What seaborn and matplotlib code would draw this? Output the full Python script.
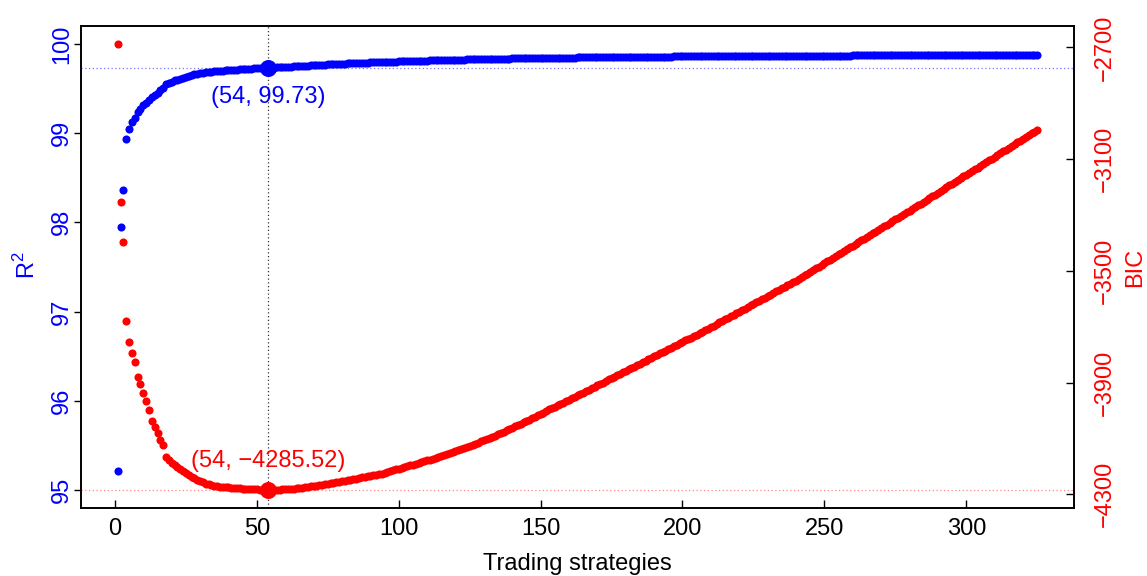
import numpy as np
import pandas as pd
import matplotlib
matplotlib.use("Agg")
import matplotlib.pyplot as plt
import seaborn as sns

# ---------------- data ----------------
r2 = [
    95.22, 97.95, 98.36, 98.93, 99.05, 99.12, 99.17, 99.24, 99.27, 99.31,
    99.34, 99.37, 99.40, 99.43, 99.45, 99.48, 99.51, 99.55, 99.56, 99.57,
    99.59, 99.60, 99.61, 99.62, 99.63, 99.64, 99.65, 99.66, 99.665, 99.67,
    99.675, 99.68, 99.684, 99.688, 99.691, 99.694, 99.697, 99.700, 99.703, 99.706,
    99.708, 99.710, 99.712, 99.714, 99.716, 99.718, 99.720, 99.722, 99.724, 99.725,
    99.726, 99.727, 99.728, 99.730, 99.732, 99.734, 99.736, 99.738, 99.740, 99.742,
    99.744, 99.746, 99.748, 99.750, 99.752, 99.754, 99.756, 99.757, 99.759, 99.761,
    99.763, 99.764, 99.766, 99.768, 99.769, 99.771, 99.773, 99.774, 99.776, 99.777,
    99.779, 99.780, 99.782, 99.783, 99.785, 99.786, 99.788, 99.789, 99.791, 99.792,
    99.794, 99.795, 99.796, 99.797, 99.798, 99.799, 99.800, 99.801, 99.802, 99.803,
    99.804, 99.805, 99.806, 99.807, 99.808, 99.809, 99.810, 99.811, 99.812, 99.813,
    99.814, 99.815, 99.816, 99.817, 99.818, 99.818, 99.819, 99.820, 99.821, 99.822,
    99.822, 99.823, 99.824, 99.825, 99.825, 99.826, 99.827, 99.828, 99.828, 99.829,
    99.830, 99.830, 99.831, 99.832, 99.832, 99.833, 99.834, 99.834, 99.835, 99.836,
    99.836, 99.837, 99.837, 99.838, 99.839, 99.839, 99.840, 99.840, 99.841, 99.841,
    99.842, 99.842, 99.843, 99.843, 99.844, 99.844, 99.845, 99.845, 99.846, 99.846,
    99.847, 99.847, 99.848, 99.848, 99.849, 99.849, 99.849, 99.850, 99.850, 99.850,
    99.851, 99.851, 99.851, 99.852, 99.852, 99.852, 99.853, 99.853, 99.853, 99.854,
    99.854, 99.854, 99.855, 99.855, 99.855, 99.856, 99.856, 99.856, 99.857, 99.857,
    99.857, 99.857, 99.858, 99.858, 99.858, 99.858, 99.859, 99.859, 99.859, 99.859,
    99.860, 99.860, 99.860, 99.860, 99.861, 99.861, 99.861, 99.861, 99.862, 99.862,
    99.862, 99.862, 99.862, 99.863, 99.863, 99.863, 99.863, 99.863, 99.864, 99.864,
    99.864, 99.864, 99.864, 99.864, 99.865, 99.865, 99.865, 99.865, 99.865, 99.865,
    99.866, 99.866, 99.866, 99.866, 99.866, 99.866, 99.866, 99.867, 99.867, 99.867,
    99.867, 99.867, 99.867, 99.867, 99.868, 99.868, 99.868, 99.868, 99.868, 99.868,
    99.868, 99.869, 99.869, 99.869, 99.869, 99.869, 99.869, 99.869, 99.869, 99.870,
    99.870, 99.870, 99.870, 99.870, 99.870, 99.870, 99.870, 99.871, 99.871, 99.871,
    99.871, 99.871, 99.871, 99.871, 99.871, 99.871, 99.872, 99.872, 99.872, 99.872,
    99.872, 99.872, 99.872, 99.872, 99.872, 99.873, 99.873, 99.873, 99.873, 99.873,
    99.873, 99.873, 99.873, 99.873, 99.873, 99.874, 99.874, 99.874, 99.874, 99.874,
    99.874, 99.874, 99.874, 99.874, 99.874, 99.874, 99.875, 99.875, 99.875, 99.875,
    99.875, 99.875, 99.875, 99.875, 99.875, 99.875, 99.875, 99.875, 99.876, 99.876,
    99.876, 99.876, 99.876, 99.876, 99.876,
]

bic = [
    -2687, -3254, -3397, -3680, -3754, -3795, -3828, -3880, -3906, -3938,
    -3966, -4000, -4037, -4058, -4081, -4105, -4125, -4166, -4177, -4187,
    -4196, -4204, -4211, -4218, -4225, -4231, -4237, -4243, -4249, -4254,
    -4258, -4262, -4265, -4268, -4270, -4272, -4273, -4274, -4275, -4276,
    -4277, -4278, -4278, -4279, -4280, -4280, -4281, -4282, -4282, -4283,
    -4284, -4284, -4285, -4285.52, -4285, -4285, -4284, -4284, -4283, -4283,
    -4282, -4281, -4280, -4279, -4278, -4277, -4275, -4274, -4272, -4271,
    -4269, -4267, -4266, -4264, -4262, -4261, -4259, -4257, -4256, -4254,
    -4252, -4250, -4248, -4246, -4244, -4242, -4240, -4238, -4236, -4234,
    -4232, -4230, -4228, -4226, -4223, -4220, -4217, -4214, -4211, -4208,
    -4205, -4202, -4199, -4197, -4194, -4191, -4188, -4185, -4182, -4179,
    -4176, -4173, -4170, -4167, -4163, -4160, -4156, -4153, -4149, -4146,
    -4142, -4139, -4135, -4132, -4128, -4124, -4120, -4116, -4111, -4107,
    -4103, -4099, -4094, -4090, -4085, -4080, -4076, -4071, -4066, -4062,
    -4057, -4052, -4047, -4042, -4037, -4033, -4028, -4023, -4018, -4013,
    -4008, -4003, -3996, -3991, -3986, -3981, -3977, -3972, -3967, -3962,
    -3957, -3951, -3946, -3941, -3936, -3931, -3926, -3920, -3915, -3910,
    -3905, -3900, -3895, -3889, -3884, -3879, -3874, -3869, -3864, -3858,
    -3853, -3848, -3843, -3838, -3832, -3827, -3822, -3817, -3812, -3806,
    -3801, -3796, -3791, -3786, -3780, -3775, -3770, -3765, -3760, -3754,
    -3749, -3744, -3739, -3734, -3729, -3724, -3718, -3713, -3707, -3702,
    -3696, -3691, -3685, -3679, -3674, -3668, -3663, -3657, -3652, -3646,
    -3641, -3635, -3629, -3624, -3618, -3613, -3607, -3602, -3596, -3590,
    -3585, -3579, -3574, -3568, -3563, -3557, -3551, -3546, -3540, -3535,
    -3529, -3523, -3516, -3510, -3504, -3498, -3491, -3485, -3479, -3473,
    -3466, -3460, -3454, -3448, -3441, -3435, -3429, -3423, -3416, -3410,
    -3404, -3398, -3391, -3385, -3379, -3372, -3366, -3360, -3354, -3347,
    -3341, -3335, -3329, -3322, -3316, -3310, -3304, -3297, -3291, -3284,
    -3278, -3272, -3265, -3259, -3252, -3246, -3239, -3233, -3227, -3220,
    -3214, -3207, -3201, -3194, -3188, -3182, -3175, -3169, -3162, -3156,
    -3149, -3143, -3137, -3130, -3124, -3117, -3111, -3104, -3098, -3092,
    -3085, -3079, -3072, -3066, -3059, -3053, -3047, -3040, -3034, -3027,
    -3021, -3014, -3008, -3002, -2996,
]

strategies = list(range(1, len(r2) + 1))
best_k = 54
x_ticks = [0, 50, 100, 150, 200, 250, 300]
r2_ticks = [95, 96, 97, 98, 99, 100]
bic_ticks = [-4300, -3900, -3500, -3100, -2700]
x_label = "Trading strategies"
BLUE = "#0000FF"
RED = "#FF0000"

# ---------------- style ----------------
sns.set_style("white")
plt.rcParams['font.family'] = ['Liberation Sans', 'DejaVu Sans']
plt.rcParams['mathtext.fontset'] = 'custom'
plt.rcParams['mathtext.rm'] = 'Liberation Sans'
plt.rcParams['axes.unicode_minus'] = True

df = pd.DataFrame({"k": strategies, "r2": r2, "bic": bic})
best_r2 = r2[best_k - 1]
best_bic = bic[best_k - 1]

fig = plt.figure(figsize=(11.47, 5.76), dpi=100)
ax = fig.add_axes([81 / 1147, 1 - 508 / 576, (1074 - 81) / 1147, (508 - 26) / 576])
ax2 = ax.twinx()

# reference lines
ax.axvline(best_k, color="#333333", ls=(0, (1, 2)), lw=0.9, zorder=1)
ax.axhline(best_r2, color="#7777FF", ls=(0, (1, 2)), lw=0.9, zorder=1)
ax2.axhline(best_bic, color="#FF8888", ls=(0, (1, 2)), lw=0.9, zorder=1)

# points
sns.scatterplot(data=df, x="k", y="r2", ax=ax, color=BLUE, s=34, linewidth=0,
                zorder=3, legend=False)
sns.scatterplot(data=df, x="k", y="bic", ax=ax2, color=RED, s=34, linewidth=0,
                zorder=3, legend=False)
ax.scatter([best_k], [best_r2], s=150, color=BLUE, linewidth=0, zorder=4)
ax2.scatter([best_k], [best_bic], s=150, color=RED, linewidth=0, zorder=4)

ax.annotate(f"({best_k}, {best_r2:.2f})", xy=(best_k, best_r2), xytext=(0, -21),
            textcoords="offset points", ha="center", va="center",
            color=BLUE, fontsize=17)
ax2.annotate(f"({best_k}, {best_bic:.2f})".replace("-", "\u2212"),
             xy=(best_k, best_bic), xytext=(0, 21),
             textcoords="offset points", ha="center", va="center",
             color=RED, fontsize=17)

# limits (R-style 4% padding)
n = len(strategies)
ax.set_xlim(1 - 0.04 * (n - 1), n + 0.04 * (n - 1))
ax.set_ylim(95 - 0.04 * 5, 100 + 0.04 * 5)
bmin, bmax = min(bic), max(bic)
br = bmax - bmin
ax2.set_ylim(bmin - 0.04 * br, bmax + 0.04 * br)

ax.set_xticks(x_ticks)
ax.set_yticks(r2_ticks)
ax2.set_yticks(bic_ticks)
ax.set_xticklabels([str(t) for t in x_ticks])
ax.set_yticklabels([str(t) for t in r2_ticks])
ax2.set_yticklabels([f"{t}".replace("-", "\u2212") for t in bic_ticks])

ax.tick_params(axis="x", direction="in", length=6, width=1, labelsize=17,
               pad=7, colors="black", bottom=True)
ax.tick_params(axis="y", direction="out", length=5, width=1, labelsize=17,
               pad=0.5, labelcolor=BLUE, color="black", left=True,
               labelrotation=90)
ax2.tick_params(axis="y", direction="in", length=6, width=1, labelsize=17,
                pad=14, labelcolor=RED, color="black", right=True,
                labelrotation=90)
for lbl in ax.get_yticklabels():
    lbl.set_va("center")
for lbl in ax2.get_yticklabels():
    lbl.set_va("center")

for a in (ax, ax2):
    for sp in a.spines.values():
        sp.set_color("black")
        sp.set_linewidth(1.2)
        sp.set_visible(True)

ax.set_xlabel(x_label, fontsize=17, color="black")
ax.xaxis.set_label_coords(0.5, (508 - 564) / 482)
ax.xaxis.label.set_va("center")
ax.set_ylabel(r"R$^\mathregular{2}$", fontsize=17, color=BLUE)
ax.yaxis.set_label_coords((27 - 81) / 993, (508 - 265) / 482)
ax.yaxis.label.set_va("center")
ax2.set_ylabel("BIC", fontsize=17, color=RED)
ax2.yaxis.set_label_coords((1135 - 81) / 993, (508 - 267) / 482)
ax2.yaxis.label.set_va("center")
ax2.grid(False)
ax.grid(False)

fig.savefig("out.png", dpi=100)
